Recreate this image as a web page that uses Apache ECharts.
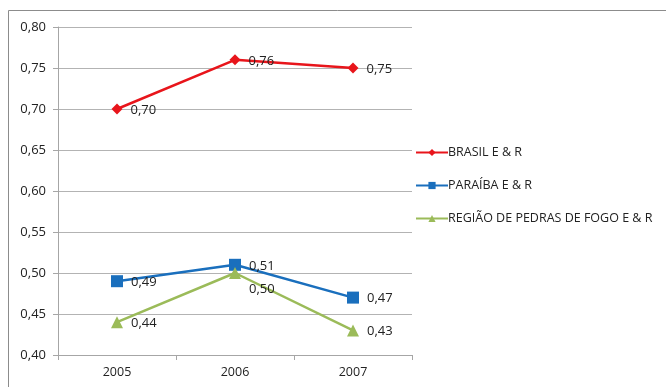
<!DOCTYPE html>
<html>
<head>
<meta charset="utf-8">
<script src="https://cdn.jsdelivr.net/npm/echarts@6/dist/echarts.min.js"></script>
<style>
  html, body { margin: 0; padding: 0; background: #fff; }
  #chart { width: 666px; height: 387px; }
</style>
</head>
<body>
<div id="chart"></div>
<script>
// Anos e índices E & R por região
const years = ['2005', '2006', '2007'];
const brasil = [0.70, 0.76, 0.75];
const paraiba = [0.49, 0.51, 0.47];
const pedrasDeFogo = [0.44, 0.50, 0.43];
const seriesNames = ['BRASIL E & R', 'PARAÍBA E & R', 'REGIÃO DE PEDRAS DE FOGO E & R'];

const FONT = '"Open Sans", "Liberation Sans", sans-serif';
const fmt = v => v.toFixed(2).replace('.', ',');

// labelShift: per-point label nudges so overlapping labels stay readable
function lineSeries(name, values, color, symbol, size, labelShift) {
  const data = values.map((v, i) => {
    const shift = labelShift && labelShift[i];
    return shift ? { value: v, label: { offset: shift } } : v;
  });
  return {
    name: name,
    type: 'line',
    data: data,
    symbol: symbol,
    symbolSize: size,
    lineStyle: { color: color, width: 2.5 },
    itemStyle: { color: color },
    label: {
      show: true,
      position: 'right',
      distance: 8,
      color: '#222',
      fontFamily: FONT,
      fontSize: 13,
      offset: [0, 1],
      formatter: p => fmt(p.value)
    },
    z: 3
  };
}

const chart = echarts.init(document.getElementById('chart'), null, { renderer: 'canvas' });
chart.setOption({
  animation: false,
  backgroundColor: '#fff',
  textStyle: { fontFamily: FONT },
  grid: { left: 58, top: 27, right: 254, bottom: 32, containLabel: false },
  xAxis: {
    type: 'category',
    data: years,
    boundaryGap: true,
    axisLine: { lineStyle: { color: '#a6a6a6', width: 1 } },
    axisTick: { show: true, length: 5, lineStyle: { color: '#a6a6a6' } },
    axisLabel: { color: '#222', fontSize: 12.5, fontFamily: FONT, margin: 11 }
  },
  yAxis: {
    type: 'value',
    min: 0.40,
    max: 0.80,
    interval: 0.05,
    axisLine: { show: true, lineStyle: { color: '#a6a6a6', width: 1 } },
    axisTick: { show: true, length: 5, lineStyle: { color: '#a6a6a6' } },
    axisLabel: { color: '#222', fontSize: 13, fontFamily: FONT, margin: 12, formatter: v => fmt(v) },
    splitLine: { show: true, lineStyle: { color: '#b3b3b3', width: 1 } }
  },
  legend: {
    orient: 'vertical',
    left: 410,
    top: 141,
    itemWidth: 32,
    itemHeight: 9,
    itemGap: 20,
    textStyle: { color: '#222', fontSize: 12.5, fontFamily: FONT, padding: [0, 0, 0, -5] },
    data: seriesNames
  },
  graphic: [
    { type: 'line', shape: { x1: 8.5, y1: 10.5, x2: 666, y2: 10.5 }, style: { stroke: '#8c8c8c', lineWidth: 1 } },
    { type: 'line', shape: { x1: 8.5, y1: 10.5, x2: 8.5, y2: 387 }, style: { stroke: '#8c8c8c', lineWidth: 1 } }
  ],
  series: [
    lineSeries(seriesNames[0], brasil, '#e8151b', 'diamond', 11),
    lineSeries(seriesNames[1], paraiba, '#1a6fbd', 'rect', 12),
    lineSeries(seriesNames[2], pedrasDeFogo, '#9bbb59', 'triangle', 12, [null, [0, 16], null])
  ]
});
</script>
</body>
</html>
